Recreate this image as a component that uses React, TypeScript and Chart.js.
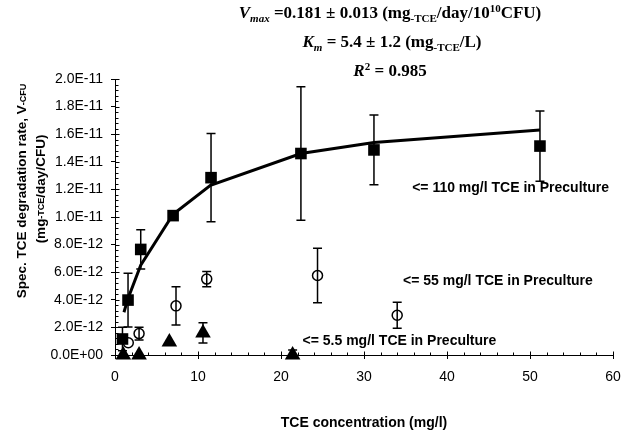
import React, { useEffect, useRef } from 'react';
import { Chart, registerables } from 'chart.js';

Chart.register(...registerables);

// ---- data ----
const fitX = [1.08, 1.57, 3.1, 7.0, 11.5, 22.4, 31.2, 51.2];
const fitY = [3.1e-12, 4.1e-12, 6.5e-12, 1.02e-11, 1.23e-11, 1.46e-11, 1.54e-11, 1.63e-11];

const sq110X = [0.9, 1.57, 3.1, 7.0, 11.57, 22.4, 31.2, 51.2];
const sq110Y = [1.16e-12, 3.98e-12, 7.65e-12, 1.01e-11, 1.285e-11, 1.46e-11, 1.486e-11, 1.514e-11];
const sq110Err = [0.85e-12, 1.95e-12, 1.42e-12, 0, 3.2e-12, 4.83e-12, 2.53e-12, 2.55e-12];

const c55X = [1.6, 2.9, 7.35, 11.05, 24.4, 34.0];
const c55Y = [0.89e-12, 1.55e-12, 3.56e-12, 5.5e-12, 5.76e-12, 2.88e-12];
const c55Err = [0, 0.46e-12, 1.39e-12, 0.55e-12, 1.97e-12, 0.95e-12];

const t55X = [1.0, 2.9, 6.55, 10.6, 21.4];
const t55Y = [0, 0, 0.94e-12, 1.6e-12, 0];
const t55Err = [0, 0, 0, 0.73e-12, 0.36e-12];

const xTicks = [0, 10, 20, 30, 40, 50, 60];
const yTicks = [0, 2e-12, 4e-12, 6e-12, 8e-12, 1e-11, 1.2e-11, 1.4e-11, 1.6e-11, 1.8e-11, 2e-11];

const seriesLabels = [
  '<= 110 mg/l TCE in Preculture',
  '<= 55 mg/l TCE in Preculture',
  '<= 5.5 mg/l TCE in Preculture',
];
const labelAnchorX = [35.8, 34.7, 22.6];
const labelAnchorY = [1.21e-11, 5.36e-12, 1.0e-12];

const xTitle = 'TCE concentration (mg/l)';

const SANS = '"Liberation Sans", Arial, sans-serif';
const SERIF = '"Liberation Serif", "Times New Roman", serif';

type Seg = { t: string; f: string; dy?: number };

function drawRich(ctx: CanvasRenderingContext2D, segs: Seg[], cx: number, y: number) {
  ctx.textAlign = 'left';
  let w = 0;
  for (const s of segs) {
    ctx.font = s.f;
    w += ctx.measureText(s.t).width;
  }
  let x = cx - w / 2;
  for (const s of segs) {
    ctx.font = s.f;
    ctx.fillText(s.t, x, y + (s.dy || 0));
    x += ctx.measureText(s.t).width;
  }
}

function fmt(v: number): string {
  const s = v.toExponential(1).toUpperCase();
  const m = s.match(/^(-?[\d.]+)E([+-])(\d+)$/);
  if (!m) return s;
  return m[1] + 'E' + m[2] + m[3].padStart(2, '0');
}

const decor = {
  id: 'decor',
  beforeDatasetsDraw(chart: any) {
    const ctx: CanvasRenderingContext2D = chart.ctx;
    const xs = chart.scales.x;
    const ys = chart.scales.y;
    ctx.save();
    ctx.strokeStyle = '#000';
    ctx.lineWidth = 1;
    const ax = Math.round(xs.left) + 0.5;
    const ay = Math.round(ys.bottom) + 0.5;
    ctx.beginPath();
    for (let i = 0; i <= 50; i++) {
      const v = i * 0.4e-12;
      const py = Math.round(ys.getPixelForValue(v)) + 0.5;
      const major = i % 5 === 0;
      ctx.moveTo(ax, py);
      ctx.lineTo(ax + (major ? 4 : 3), py);
    }
    for (let i = 0; i <= 30; i++) {
      const v = i * 2;
      const px = Math.round(xs.getPixelForValue(v)) + 0.5;
      const major = i % 5 === 0;
      ctx.moveTo(px, ay);
      ctx.lineTo(px, ay - (major ? 4 : 3));
    }
    ctx.stroke();
    const sets = [
      [sq110X, sq110Y, sq110Err],
      [c55X, c55Y, c55Err],
      [t55X, t55Y, t55Err],
    ];
    ctx.lineWidth = 1.5;
    for (const [X, Y, E] of sets) {
      for (let i = 0; i < X.length; i++) {
        if (!E[i]) continue;
        const px = xs.getPixelForValue(X[i]);
        const top = ys.getPixelForValue(Y[i] + E[i]);
        const bot = ys.getPixelForValue(Math.max(Y[i] - E[i], 0));
        ctx.beginPath();
        ctx.moveTo(px, top);
        ctx.lineTo(px, bot);
        ctx.moveTo(px - 4.5, top);
        ctx.lineTo(px + 4.5, top);
        ctx.moveTo(px - 4.5, bot);
        ctx.lineTo(px + 4.5, bot);
        ctx.stroke();
      }
    }
    ctx.restore();
  },
  afterDraw(chart: any) {
    const ctx: CanvasRenderingContext2D = chart.ctx;
    const xs = chart.scales.x;
    const ys = chart.scales.y;
    ctx.save();
    ctx.fillStyle = '#000';
    ctx.textBaseline = 'alphabetic';
    const B = `bold 17px ${SERIF}`;
    const BI = `italic bold 17px ${SERIF}`;
    const SB = `bold 11px ${SERIF}`;
    const SBI = `italic bold 11px ${SERIF}`;
    drawRich(ctx, [
      { t: 'V', f: BI },
      { t: 'max', f: SBI, dy: 4 },
      { t: ' =0.181 \u00b1 0.013 (mg', f: B },
      { t: '-TCE', f: SB, dy: 4 },
      { t: '/day/10', f: B },
      { t: '10', f: SB, dy: -6 },
      { t: 'CFU)', f: B },
    ], 390, 18);
    drawRich(ctx, [
      { t: 'K', f: BI },
      { t: 'm', f: SBI, dy: 4 },
      { t: ' = 5.4 \u00b1 1.2 (mg', f: B },
      { t: '-TCE', f: SB, dy: 4 },
      { t: '/L)', f: B },
    ], 392, 47);
    drawRich(ctx, [
      { t: 'R', f: BI },
      { t: '2', f: SB, dy: -6 },
      { t: ' = 0.985', f: B },
    ], 390, 76);

    ctx.font = `bold 14px ${SANS}`;
    ctx.textBaseline = 'middle';
    ctx.textAlign = 'left';
    for (let i = 0; i < seriesLabels.length; i++) {
      ctx.fillText(seriesLabels[i], xs.getPixelForValue(labelAnchorX[i]), ys.getPixelForValue(labelAnchorY[i]));
    }

    ctx.textAlign = 'center';
    ctx.textBaseline = 'middle';
    ctx.font = `bold 14px ${SANS}`;
    ctx.fillText(xTitle, (xs.left + xs.right) / 2, 423);

    ctx.save();
    ctx.translate(22, 191);
    ctx.rotate(-Math.PI / 2);
    ctx.textBaseline = 'middle';
    drawRich(ctx, [
      { t: 'Spec. TCE degradation rate, V', f: `bold 13.5px ${SANS}` },
      { t: '-CFU', f: `bold 9px ${SANS}`, dy: 2 },
    ], 0, 0);
    ctx.restore();
    ctx.save();
    ctx.translate(41, 189);
    ctx.rotate(-Math.PI / 2);
    ctx.textBaseline = 'middle';
    drawRich(ctx, [
      { t: '(mg', f: `bold 13.5px ${SANS}` },
      { t: '-TCE', f: `bold 9px ${SANS}`, dy: 1 },
      { t: '/day/CFU)', f: `bold 13.5px ${SANS}` },
    ], 0, 0);
    ctx.restore();
    ctx.restore();
  },
};

export default function App() {
  const ref = useRef<HTMLCanvasElement | null>(null);
  useEffect(() => {
    if (!ref.current) return;
    const toPts = (X: number[], Y: number[]) => X.map((x, i) => ({ x, y: Y[i] }));
    const chart = new Chart(ref.current, {
      type: 'scatter',
      data: {
        datasets: [
          {
            label: 'fit',
            data: toPts(fitX, fitY),
            showLine: true,
            borderColor: '#000',
            borderWidth: 3,
            pointRadius: 0,
            fill: false,
            order: 4,
            clip: false,
          } as any,
          {
            label: seriesLabels[0],
            data: toPts(sq110X, sq110Y),
            pointStyle: 'rect',
            pointRadius: 8.2,
            backgroundColor: '#000',
            borderColor: '#000',
            borderWidth: 0,
            order: 1,
            clip: false,
          } as any,
          {
            label: seriesLabels[1],
            data: toPts(c55X, c55Y),
            pointStyle: 'circle',
            pointRadius: 5,
            backgroundColor: 'rgba(0,0,0,0)',
            borderColor: '#000',
            borderWidth: 1.5,
            order: 2,
            clip: false,
          } as any,
          {
            label: seriesLabels[2],
            data: toPts(t55X, t55Y),
            pointStyle: 'triangle',
            pointRadius: 9,
            backgroundColor: '#000',
            borderColor: '#000',
            borderWidth: 0,
            order: 3,
            clip: false,
          } as any,
        ],
      },
      options: {
        animation: false,
        responsive: false,
        devicePixelRatio: 1,
        layout: { padding: { top: 79, right: 11, left: 0, bottom: 0 } },
        plugins: {
          legend: { display: false },
          tooltip: { enabled: false },
          title: { display: false },
        },
        scales: {
          x: {
            type: 'linear',
            min: 0,
            max: 60,
            afterBuildTicks: (s: any) => {
              s.ticks = xTicks.map((v) => ({ value: v }));
            },
            afterFit: (s: any) => {
              s.height = 85;
              s.paddingLeft = 0;
              s.paddingRight = 0;
            },
            ticks: {
              color: '#000',
              font: { family: SANS, size: 14 },
              padding: 10,
              maxRotation: 0,
              autoSkip: false,
            },
            grid: {
              display: true,
              drawOnChartArea: false,
              drawTicks: true,
              tickLength: 4,
              color: '#000',
            },
            border: { display: true, color: '#000', width: 1 },
          },
          y: {
            type: 'linear',
            min: 0,
            max: 2e-11,
            afterBuildTicks: (s: any) => {
              s.ticks = yTicks.map((v) => ({ value: v }));
            },
            afterFit: (s: any) => {
              s.width = 115;
              s.paddingTop = 0;
              s.paddingBottom = 0;
            },
            ticks: {
              color: '#000',
              font: { family: SANS, size: 14 },
              padding: 8,
              autoSkip: false,
              callback: (v: any) => fmt(Number(v)),
            },
            grid: {
              display: true,
              drawOnChartArea: false,
              drawTicks: true,
              tickLength: 4,
              color: '#000',
            },
            border: { display: true, color: '#000', width: 1 },
          },
        },
      },
      plugins: [decor],
    } as any);
    return () => chart.destroy();
  }, []);
  return (
    <div style={{ position: 'absolute', left: 0, top: 0, width: 624, height: 440, background: '#fff' }}>
      <canvas ref={ref} width={624} height={440} style={{ display: 'block' }} />
    </div>
  );
}
